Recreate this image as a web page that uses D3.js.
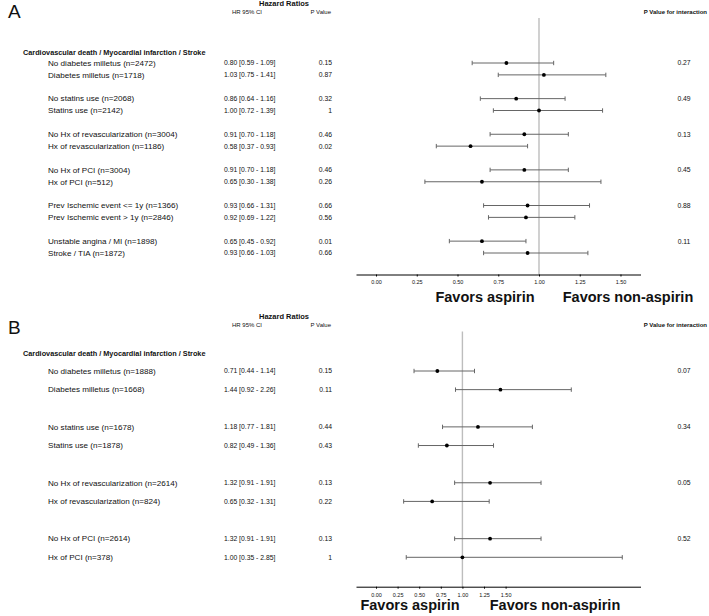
<!DOCTYPE html>
<html><head><meta charset="utf-8">
<script src="https://cdn.jsdelivr.net/npm/d3@7"></script>
<style>
html,body{margin:0;padding:0;background:#fff;}
svg text{font-family:"Liberation Sans",Arial,Helvetica,sans-serif;fill:#111;}
</style></head>
<body>
<svg id="c" width="709" height="616"></svg>
<script>
// ---------- DATA ----------
const outcomeTitle = "Cardiovascular death / Myocardial infarction / Stroke";
const tickValues = [0, 0.25, 0.5, 0.75, 1.0, 1.25, 1.5];

const labelsA = ["No diabetes milletus (n=2472)","Diabetes milletus (n=1718)","No statins use (n=2068)","Statins use (n=2142)",
  "No Hx  of revascularization (n=3004)","Hx  of revascularization (n=1186)","No Hx  of PCI (n=3004)","Hx  of PCI (n=512)",
  "Prev  Ischemic event <= 1y (n=1366)","Prev  Ischemic event > 1y (n=2846)","Unstable angina / MI (n=1898)","Stroke / TIA (n=1872)"];
const hrA = [0.80,1.03,0.86,1.00,0.91,0.58,0.91,0.65,0.93,0.92,0.65,0.93];
const loA = [0.59,0.75,0.64,0.72,0.70,0.37,0.70,0.30,0.66,0.69,0.45,0.66];
const hiA = [1.09,1.41,1.16,1.39,1.18,0.93,1.18,1.38,1.31,1.22,0.92,1.30];
const ciTextA = ["0.80 [0.59 - 1.09]","1.03 [0.75 - 1.41]","0.86 [0.64 - 1.16]","1.00 [0.72 - 1.39]","0.91 [0.70 - 1.18]","0.58 [0.37 - 0.93]",
  "0.91 [0.70 - 1.18]","0.65 [0.30 - 1.38]","0.93 [0.66 - 1.31]","0.92 [0.69 - 1.22]","0.65 [0.45 - 0.92]","0.93 [0.66 - 1.03]"];
const pA = ["0.15","0.87","0.32","1","0.46","0.02","0.46","0.26","0.66","0.56","0.01","0.66"];
const pInterA = ["0.27","0.49","0.13","0.45","0.88","0.11"];

const labelsB = ["No diabetes milletus (n=1888)","Diabetes milletus (n=1668)","No statins use (n=1678)","Statins use (n=1878)",
  "No Hx  of revascularization (n=2614)","Hx  of revascularization (n=824)","No Hx  of PCI (n=2614)","Hx  of PCI (n=378)"];
const hrB = [0.71,1.44,1.18,0.82,1.32,0.65,1.32,1.00];
const loB = [0.44,0.92,0.77,0.49,0.91,0.32,0.91,0.35];
const hiB = [1.14,2.26,1.81,1.36,1.91,1.31,1.91,2.85];
const ciTextB = ["0.71 [0.44 - 1.14]","1.44 [0.92 - 2.26]","1.18 [0.77 - 1.81]","0.82 [0.49 - 1.36]","1.32 [0.91 - 1.91]","0.65 [0.32 - 1.31]",
  "1.32 [0.91 - 1.91]","1.00 [0.35 - 2.85]"];
const pB = ["0.15","0.11","0.44","0.43","0.13","0.22","0.13","1"];
const pInterB = ["0.07","0.34","0.05","0.52"];

// ---------- DRAW ----------
const svg = d3.select("#c");

function panel(cfg){
  const g = svg.append("g");
  const n = cfg.labels.length;
  const rowK = i => Math.floor(i/2)*3 + (i%2);
  const y = d3.scaleLinear().domain([0, rowK(n-1)]).range(cfg.yRange);
  const x = d3.scaleLinear().domain(cfg.xDomain).range([356, 640.5]);

  g.append("text").attr("x",8).attr("y",cfg.letterY).attr("font-size",19).text(cfg.letter);
  g.append("text").attr("x",284).attr("y",cfg.headY).attr("text-anchor","middle")
    .attr("font-size",7.5).attr("font-weight","bold").text("Hazard Ratios");
  g.append("text").attr("x",232).attr("y",cfg.headY+8.5).attr("font-size",6).text("HR  95% CI");
  g.append("text").attr("x",331).attr("y",cfg.headY+8.5).attr("text-anchor","end").attr("font-size",6).text("P Value");
  g.append("text").attr("x",707).attr("y",cfg.headY+8.5).attr("text-anchor","end").attr("font-size",6)
    .attr("font-weight","bold").text("P Value for interaction");
  g.append("text").attr("x",23).attr("y",cfg.titleY+2.6).attr("font-size",7.3).attr("font-weight","bold").text(outcomeTitle);

  const rows = d3.range(n).map(i => ({i, k: rowK(i)}));
  g.selectAll("text.lab").data(rows).join("text").attr("class","lab")
    .attr("x",48).attr("y",d=>y(d.k)+2.8).attr("font-size",8.1).text(d=>cfg.labels[d.i]);
  g.selectAll("text.ci").data(rows).join("text").attr("class","ci")
    .attr("x",224).attr("y",d=>y(d.k)+2.4).attr("font-size",6.8).text(d=>cfg.ciText[d.i]);
  g.selectAll("text.pv").data(rows).join("text").attr("class","pv")
    .attr("x",332).attr("y",d=>y(d.k)+2.4).attr("text-anchor","end").attr("font-size",6.8).text(d=>cfg.p[d.i]);
  g.selectAll("text.pi").data(cfg.pInter).join("text").attr("class","pi")
    .attr("x",684).attr("y",(d,j)=>y(rowK(j*2))+2.4).attr("text-anchor","middle").attr("font-size",6.8).text(d=>d);

  // reference line
  g.append("line").attr("x1",x(1)).attr("x2",x(1)).attr("y1",cfg.refTop).attr("y2",cfg.axisY)
    .attr("stroke","#bdbdbd").attr("stroke-width",1.4);

  // error bars
  const eb = g.selectAll("g.eb").data(rows).join("g").attr("class","eb");
  eb.append("line").attr("x1",d=>x(cfg.lo[d.i])).attr("x2",d=>x(cfg.hi[d.i]))
    .attr("y1",d=>y(d.k)).attr("y2",d=>y(d.k)).attr("stroke","#666").attr("stroke-width",1);
  eb.append("line").attr("x1",d=>x(cfg.lo[d.i])).attr("x2",d=>x(cfg.lo[d.i]))
    .attr("y1",d=>y(d.k)-2.2).attr("y2",d=>y(d.k)+2.2).attr("stroke","#666").attr("stroke-width",1);
  eb.append("line").attr("x1",d=>x(cfg.hi[d.i])).attr("x2",d=>x(cfg.hi[d.i]))
    .attr("y1",d=>y(d.k)-2.2).attr("y2",d=>y(d.k)+2.2).attr("stroke","#666").attr("stroke-width",1);
  eb.append("circle").attr("cx",d=>x(cfg.hr[d.i])).attr("cy",d=>y(d.k)).attr("r",1.9).attr("fill","#000");

  // axis
  const ax = g.append("g").attr("transform",`translate(0,${cfg.axisY})`)
    .call(d3.axisBottom(x).tickValues(tickValues).tickFormat(d3.format(".2f")).tickSizeOuter(0).tickSizeInner(2).tickPadding(4));
  ax.select(".domain").attr("stroke","#000").attr("stroke-width",1);
  ax.selectAll(".tick line").attr("stroke","#000");
  ax.selectAll(".tick text").attr("font-size",5.5).attr("font-family",'"Liberation Sans",Arial,sans-serif').attr("fill","#111");

  g.append("text").attr("x",cfg.favA).attr("y",cfg.axisY+cfg.favDy).attr("text-anchor","middle")
    .attr("font-size",14.5).attr("font-weight","bold").text("Favors aspirin");
  g.append("text").attr("x",cfg.favB).attr("y",cfg.axisY+cfg.favDy).attr("text-anchor","middle")
    .attr("font-size",14.5).attr("font-weight","bold").text("Favors non-aspirin");
}

panel({letter:"A", letterY:18, headY:5.5, titleY:52, yRange:[63,253], xDomain:[-0.1227,1.6227],
  refTop:18, axisY:274.5, favA:485, favB:628, favDy:27,
  labels:labelsA, hr:hrA, lo:loA, hi:hiA, ciText:ciTextA, p:pA, pInter:pInterA});
panel({letter:"B", letterY:334, headY:318.5, titleY:353, yRange:[371,557.3], xDomain:[-0.2315,3.061],
  refTop:331.5, axisY:586.7, favA:410, favB:555, favDy:23.5,
  labels:labelsB, hr:hrB, lo:loB, hi:hiB, ciText:ciTextB, p:pB, pInter:pInterB});
</script>
</body></html>
